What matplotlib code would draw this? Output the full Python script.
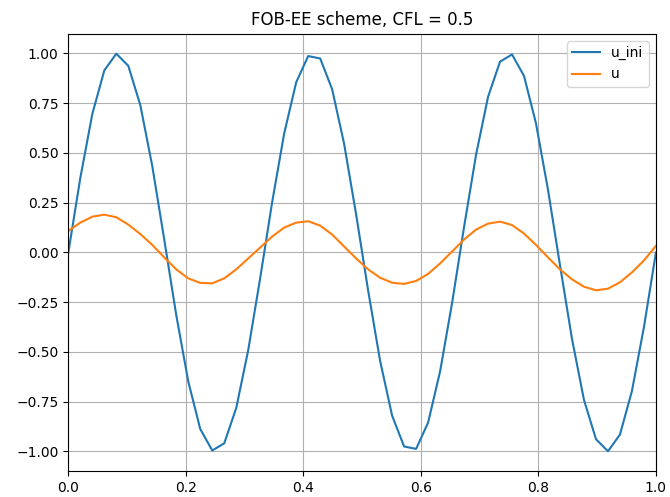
import matplotlib
matplotlib.use('Agg')
import matplotlib.pyplot as plt
import numpy as np

# сетка и решения
x = np.linspace(0, 1, 50)
u_ini = [0.000, 0.375, 0.696, 0.915, 0.999, 0.938, 0.741, 0.434, 0.064, -0.315,
         -0.648, -0.887, -0.995, -0.959, -0.782, -0.491, -0.128, 0.254, 0.598, 0.855,
         0.987, 0.975, 0.820, 0.545, 0.191, -0.191, -0.545, -0.820, -0.975, -0.987,
         -0.855, -0.598, -0.254, 0.128, 0.491, 0.782, 0.959, 0.995, 0.887, 0.648,
         0.315, -0.064, -0.434, -0.741, -0.938, -0.999, -0.915, -0.696, -0.375, 0.000]
u = [0.108, 0.150, 0.180, 0.190, 0.177, 0.140, 0.093, 0.038, -0.025, -0.085,
     -0.130, -0.153, -0.155, -0.130, -0.085, -0.030, 0.025, 0.080, 0.125, 0.150,
     0.157, 0.135, 0.090, 0.030, -0.030, -0.085, -0.127, -0.152, -0.158, -0.143,
     -0.108, -0.055, 0.005, 0.065, 0.115, 0.145, 0.155, 0.138, 0.095, 0.038,
     -0.025, -0.085, -0.135, -0.172, -0.190, -0.182, -0.150, -0.100, -0.040, 0.033]

fig = plt.figure(figsize=(6.7, 4.97), dpi=100)
ax = fig.add_axes([0.102, 0.052, 0.877, 0.880])
ax.plot(x, u_ini, label='u_ini')
ax.plot(x, u, label='u')
ax.set_xlim(0, 1)
ax.set_title('FOB-EE scheme, CFL = 0.5')
ax.grid(True)
ax.legend(loc='upper right')
fig.savefig('out.png', dpi=100)
